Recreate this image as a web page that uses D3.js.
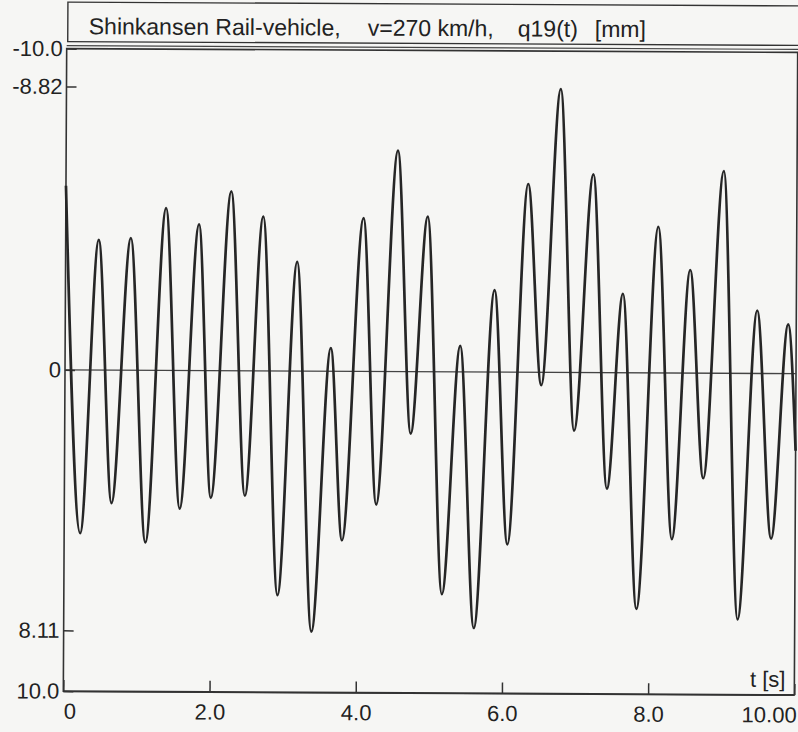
<!DOCTYPE html>
<html>
<head>
<meta charset="utf-8">
<script src="https://cdn.jsdelivr.net/npm/d3@7"></script>
<style>
  body { margin: 0; background: #f6f6f4; }
  svg { display: block; }
  text { font-family: "Liberation Sans", Arial, sans-serif; fill: #222; }
</style>
</head>
<body>
<div id="chart"></div>
<script>
// extrema of q19(t), in time order
var timeS = [0.000, 0.219, 0.453, 0.645, 0.892, 1.111, 1.372, 1.578, 1.824, 2.003,
    2.263, 2.469, 2.702, 2.922, 3.169, 3.388, 3.635, 3.800, 4.074, 4.266,
    4.540, 4.733, 4.952, 5.171, 5.405, 5.610, 5.871, 6.063, 6.324, 6.516,
    6.763, 6.968, 7.215, 7.421, 7.627, 7.833, 8.107, 8.313, 8.546, 8.738,
    8.999, 9.218, 9.465, 9.671, 9.890, 10.000];
var q19mm = [-5.73, 5.08, -4.05, 4.14, -4.11, 5.36, -5.05, 4.30, -4.55, 3.96,
    -5.58, 3.89, -4.80, 6.98, -3.40, 8.11, -0.72, 5.26, -4.77, 4.14,
    -6.88, 1.93, -4.83, 6.92, -0.81, 7.97, -2.55, 5.36, -5.86, 0.40,
    -8.82, 1.81, -6.17, 3.61, -2.46, 7.35, -4.55, 5.17, -3.21, 3.27,
    -6.29, 7.66, -1.96, 5.14, -1.53, 2.40];

var xTicks = [0, 2, 4, 6, 8, 10];
var xTickLabels = ["0", "2.0", "4.0", "6.0", "8.0", "10.00"];
var yTicks = [-10, -8.82, 0, 8.11, 10];
var yTickLabels = ["-10.0", "-8.82", "0", "8.11", "10.0"];
var titleParts = ["Shinkansen Rail-vehicle,", "v=270 km/h,", "q19(t)", "[mm]"];
var titleX = [87, 366, 516, 593];

var width = 798, height = 732;
var plot = { left: 65, right: 796, top: 50.5, bottom: 693 };

var svg = d3.select("#chart").append("svg")
    .attr("width", width)
    .attr("height", height);

// the scanned page sits a little crooked
var g = svg.append("g").attr("transform", "rotate(0.3,430,372)");

var x = d3.scaleLinear().domain([0, 10]).range([plot.left, plot.right]);
var y = d3.scaleLinear().domain([-10, 10]).range([plot.top, plot.bottom]);

// title box
g.append("rect")
    .attr("x", 66).attr("y", 4)
    .attr("width", 780).attr("height", 39.5)
    .attr("fill", "none")
    .attr("stroke", "#333")
    .attr("stroke-width", 1.4);

g.selectAll(".title")
    .data(titleParts)
    .enter().append("text")
    .attr("class", "title")
    .attr("x", function (d, i) { return titleX[i]; })
    .attr("y", 36)
    .style("font-size", "23px")
    .text(function (d) { return d; });

// frame
g.append("rect")
    .attr("x", plot.left).attr("y", plot.top)
    .attr("width", plot.right - plot.left)
    .attr("height", plot.bottom - plot.top)
    .attr("fill", "none")
    .attr("stroke", "#333")
    .attr("stroke-width", 1.6);

g.append("line")
    .attr("x1", plot.left).attr("x2", width + 20)
    .attr("y1", plot.top - 3).attr("y2", plot.top - 3)
    .attr("stroke", "#444")
    .attr("stroke-width", 1.2);

g.append("line")
    .attr("x1", plot.left).attr("x2", plot.right)
    .attr("y1", plot.bottom + 0.5).attr("y2", plot.bottom + 0.5)
    .attr("stroke", "#333")
    .attr("stroke-width", 1.4);

// zero line
g.append("line")
    .attr("x1", plot.left).attr("x2", plot.right)
    .attr("y1", y(0)).attr("y2", y(0))
    .attr("stroke", "#444")
    .attr("stroke-width", 1.3);

var yAxis = g.append("g")
    .attr("transform", "translate(" + plot.left + ",0)")
    .call(d3.axisLeft(y)
        .tickValues(yTicks)
        .tickFormat(function (d, i) { return yTickLabels[i]; })
        .tickSizeInner(-10)
        .tickSizeOuter(0)
        .tickPadding(4));
yAxis.select(".domain").remove();
yAxis.selectAll("line").attr("stroke", "#333").attr("stroke-width", 1.5);
yAxis.selectAll("text").style("font-size", "22px").attr("fill", "#222");

var xAxis = g.append("g")
    .attr("transform", "translate(0," + plot.bottom + ")")
    .call(d3.axisBottom(x)
        .tickValues(xTicks)
        .tickFormat(function (d, i) { return xTickLabels[i]; })
        .tickSizeInner(-11)
        .tickSizeOuter(0)
        .tickPadding(12));
xAxis.select(".domain").remove();
xAxis.selectAll("line").attr("stroke", "#333").attr("stroke-width", 1.5);
xAxis.selectAll("text").style("font-size", "22px").attr("fill", "#222")
    .attr("text-anchor", function (d, i) {
        if (i == 0) return "start";
        if (i == xTicks.length - 1) return "end";
        return "middle";
    })
    .attr("dx", function (d, i) { return i == xTicks.length - 1 ? 2 : 0; });

g.append("text")
    .attr("x", 787)
    .attr("y", 685)
    .attr("text-anchor", "end")
    .style("font-size", "22px")
    .text("t [s]");

// the signal
var points = timeS.map(function (t, i) { return [t, q19mm[i]]; });
var line = d3.line()
    .x(function (d) { return x(d[0]); })
    .y(function (d) { return y(d[1]); })
    .curve(d3.curveMonotoneX);

g.append("path")
    .datum(points)
    .attr("d", line)
    .attr("fill", "none")
    .attr("stroke", "#262626")
    .attr("stroke-width", 2.7)
    .attr("stroke-linejoin", "round");
</script>
</body>
</html>
